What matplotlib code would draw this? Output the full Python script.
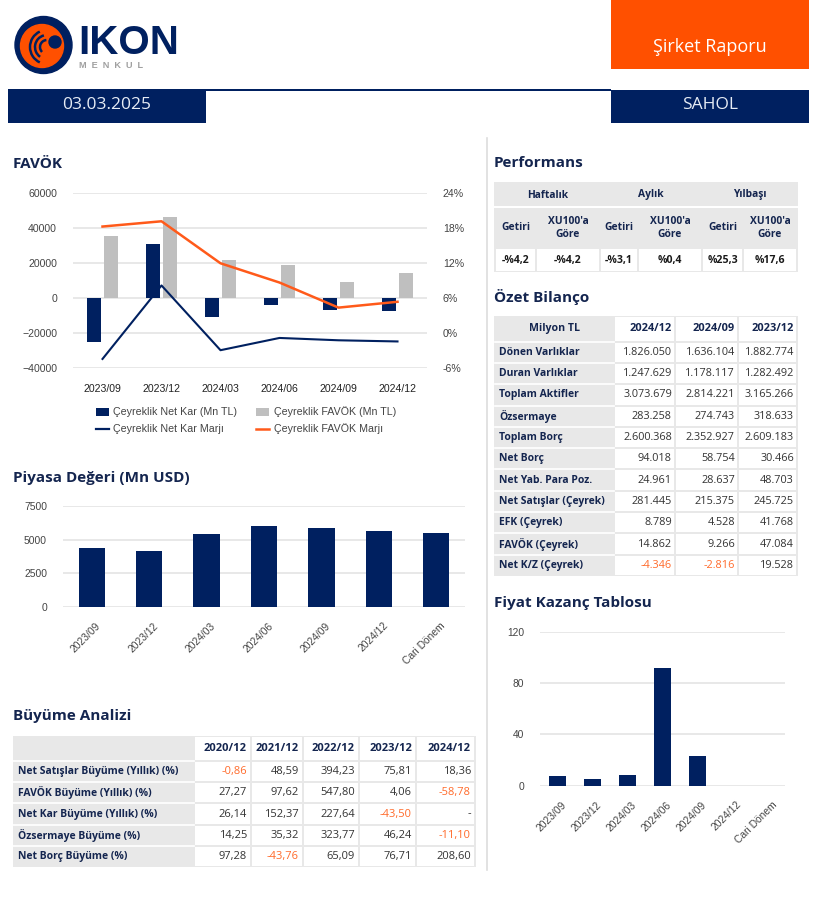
import numpy as np
import matplotlib
matplotlib.use("Agg")
import matplotlib.pyplot as plt
from matplotlib.patches import Rectangle, Circle, Arc
from matplotlib.transforms import ScaledTranslation

# --- data -------------------------------------------------------------
favok_quarters = ['2023/09', '2023/12', '2024/03', '2024/06', '2024/09', '2024/12']
net_kar = [-25500, 30900, -11000, -4400, -6900, -7400]
favok = [35200, 46300, 21500, 18500, 8800, 14100]
net_kar_marji = [-4.5, 8.1, -3.0, -0.9, -1.3, -1.5]
favok_marji = [18.2, 19.1, 11.9, 8.6, 4.3, 5.3]

period_labels = ['2023/09', '2023/12', '2024/03', '2024/06', '2024/09', '2024/12', 'Cari Dönem']
piyasa_degeri = [4360, 4160, 5410, 6030, 5880, 5660, 5480]
fiyat_kazanc = [7.6, 5.0, 8.6, 91.5, 23.5, np.nan, np.nan]

perf_groups = ['Haftalık', 'Aylık', 'Yılbaşı']
perf_sub = ['Getiri', "XU100'a\nGöre"]
perf_values = ['-%4,2', '-%4,2', '-%3,1', '%0,4', '%25,3', '%17,6']

bilanco_cols = ['2024/12', '2024/09', '2023/12']
bilanco_rows = ['Dönen Varlıklar', 'Duran Varlıklar', 'Toplam Aktifler', 'Özsermaye',
                'Toplam Borç', 'Net Borç', 'Net Yab. Para Poz.', 'Net Satışlar (Çeyrek)',
                'EFK (Çeyrek)', 'FAVÖK (Çeyrek)', 'Net K/Z (Çeyrek)']
bilanco_values = [
    ['1.826.050', '1.636.104', '1.882.774'],
    ['1.247.629', '1.178.117', '1.282.492'],
    ['3.073.679', '2.814.221', '3.165.266'],
    ['283.258', '274.743', '318.633'],
    ['2.600.368', '2.352.927', '2.609.183'],
    ['94.018', '58.754', '30.466'],
    ['24.961', '28.637', '48.703'],
    ['281.445', '215.375', '245.725'],
    ['8.789', '4.528', '41.768'],
    ['14.862', '9.266', '47.084'],
    ['-4.346', '-2.816', '19.528'],
]

buyume_cols = ['2020/12', '2021/12', '2022/12', '2023/12', '2024/12']
buyume_rows = ['Net Satışlar Büyüme (Yıllık) (%)', 'FAVÖK Büyüme (Yıllık) (%)',
               'Net Kar Büyüme (Yıllık) (%)', 'Özsermaye Büyüme (%)', 'Net Borç Büyüme (%)']
buyume_values = [
    ['-0,86', '48,59', '394,23', '75,81', '18,36'],
    ['27,27', '97,62', '547,80', '4,06', '-58,78'],
    ['26,14', '152,37', '227,64', '-43,50', '-'],
    ['14,25', '35,32', '323,77', '46,24', '-11,10'],
    ['97,28', '-43,76', '65,09', '76,71', '208,60'],
]

# --- style ------------------------------------------------------------
NAVY = '#002060'
TITLE = '#14254f'
ORANGE = '#ff5000'
NEG = '#ff6a2a'
CELL_GRAY = '#e8e8e8'
GRID = '#e6e6e6'
TXT = '#333333'
TFONT = ['Open Sans', 'DejaVu Sans']
CFONT = ['Liberation Sans', 'DejaVu Sans']

W, H = 817, 897
fig = plt.figure(figsize=(W / 100, H / 100), dpi=100)
fig.patch.set_facecolor('white')

# overlay in pixel coordinates for header, titles and tables
ov = fig.add_axes([0, 0, 1, 1])
ov.set_xlim(0, W)
ov.set_ylim(H, 0)
ov.axis('off')


def px_axes(x0, y0, x1, y1):
    return fig.add_axes([x0 / W, 1 - y1 / H, (x1 - x0) / W, (y1 - y0) / H])


def rect(x0, y0, x1, y1, fc, ec='none', lw=0):
    ov.add_patch(Rectangle((x0, y0), x1 - x0, y1 - y0, facecolor=fc, edgecolor=ec, linewidth=lw))


def title(x, y, s):
    ov.text(x, y, s, fontsize=11, fontweight='bold', color=TITLE, family=TFONT, va='baseline')


# --- header -------------------------------------------------------------
ov.add_patch(Circle((43.5, 45), 28.5, color=NAVY))
ov.add_patch(Circle((42, 46), 21.5, color=ORANGE))
for r, t1, t2 in [(17, 115, 245), (12, 125, 255), (7, 135, 265)]:
    ov.add_patch(Arc((47, 47), 2 * r, 2 * r, theta1=t1, theta2=t2, color=NAVY, lw=1.8))
ov.add_patch(Circle((55, 42), 6, color=NAVY))
ov.text(78, 54, 'IKON', fontsize=29, fontweight='heavy', color=NAVY, family=CFONT, va='baseline')
ov.text(79, 68.5, 'M  E  N  K  U  L', fontsize=6.6, fontweight='bold', color='#a0a0a0',
        family=CFONT, va='baseline')

rect(611, 0, 809, 69, ORANGE)
ov.text(710, 47, 'Şirket Raporu', fontsize=13, color='white', family=TFONT, ha='center', va='center')

rect(8, 89, 611, 91.5, NAVY)
rect(8, 90, 206, 123, NAVY)
rect(611, 90, 809, 123, NAVY)
ov.text(107, 105, '03.03.2025', fontsize=12.5, color='#e6ecf5', family=TFONT, ha='center', va='center')
ov.text(710, 105, 'SAHOL', fontsize=12.5, color='#e6ecf5', family=TFONT, ha='center', va='center')

ov.plot([487, 487], [138, 870], color='#dddddd', lw=1.2)

# --- FAVÖK chart --------------------------------------------------------
title(13, 168, 'FAVÖK')
ax = px_axes(73, 192.7, 427, 367.7)
x = np.arange(len(favok_quarters))
ax.bar(x - 0.14, net_kar, width=0.23, color=NAVY, zorder=2)
ax.bar(x + 0.14, favok, width=0.23, color='#bfbfbf', zorder=2)
ax.set_xlim(-0.5, 5.5)
ax.set_ylim(-40000, 60000)
ax.set_yticks(range(-40000, 60001, 20000))
ax.yaxis.grid(True, color=GRID, lw=1.3)
ax.set_axisbelow(True)
ax.set_xticks(x)
ax.set_xticklabels(favok_quarters)
ax.tick_params(axis='both', length=0, labelsize=7.6, labelcolor='#444444')
ax.tick_params(axis='y', pad=11.5)
ax.tick_params(axis='x', pad=12, labelcolor='#222222')
for lab in ax.get_xticklabels() + ax.get_yticklabels():
    lab.set_family(CFONT)
for s in ax.spines.values():
    s.set_visible(False)

ax2 = ax.twinx()
ax2.plot(x, net_kar_marji, color=NAVY, lw=1.5, zorder=3)
ax2.plot(x, favok_marji, color='#ff5a1a', lw=1.8, zorder=3)
ax2.set_ylim(-6, 24)
ax2.set_yticks(range(-6, 25, 6))
ax2.set_yticklabels([f'{v}%' for v in range(-6, 25, 6)])
ax2.tick_params(axis='y', length=0, labelsize=7.6, labelcolor='#444444', pad=11.5)
for lab in ax2.get_yticklabels():
    lab.set_family(CFONT)
for s in ax2.spines.values():
    s.set_visible(False)

# legend
LEG = 7.7
rect(96, 408, 109, 416, NAVY)
ov.text(113, 412, 'Çeyreklik Net Kar (Mn TL)', fontsize=LEG, color='#444444', family=CFONT, va='center')
rect(256, 408, 269, 416, '#bfbfbf')
ov.text(274, 412, 'Çeyreklik FAVÖK (Mn TL)', fontsize=LEG, color='#444444', family=CFONT, va='center')
ov.plot([96, 109], [429, 429], color=NAVY, lw=1.6)
ov.text(113, 429, 'Çeyreklik Net Kar Marjı', fontsize=LEG, color='#444444', family=CFONT, va='center')
ov.plot([256, 269], [429, 429], color='#ff5a1a', lw=1.8)
ov.text(274, 429, 'Çeyreklik FAVÖK Marjı', fontsize=LEG, color='#444444', family=CFONT, va='center')


def bar_chart(axb, values, ymax, yticks):
    xi = np.arange(len(period_labels))
    axb.bar(xi, values, width=0.46, color=NAVY, zorder=2)
    axb.set_xlim(-0.5, len(period_labels) - 0.5)
    axb.set_ylim(0, ymax)
    axb.set_yticks(yticks)
    axb.yaxis.grid(True, color=GRID, lw=1.3)
    axb.set_axisbelow(True)
    axb.set_xticks(xi)
    axb.set_xticklabels(period_labels, rotation=45, ha='right', rotation_mode='anchor')
    axb.tick_params(axis='both', length=0, labelsize=7.4, labelcolor='#444444')
    axb.tick_params(axis='y', pad=11.5)
    axb.tick_params(axis='x', pad=10)
    off = ScaledTranslation(4 / 100, 0, fig.dpi_scale_trans)
    for lab in axb.get_xticklabels():
        lab.set_family(CFONT)
        lab.set_transform(lab.get_transform() + off)
    for lab in axb.get_yticklabels():
        lab.set_family(CFONT)
    for s in axb.spines.values():
        s.set_visible(False)


# --- Piyasa Değeri --------------------------------------------------------
title(13, 482, 'Piyasa Değeri (Mn USD)')
axp = px_axes(63, 506.3, 465, 606.7)
bar_chart(axp, piyasa_degeri, 7500, [0, 2500, 5000, 7500])

# --- Fiyat Kazanç --------------------------------------------------------
title(494, 607, 'Fiyat Kazanç Tablosu')
axf = px_axes(540, 631.7, 785, 785.7)
bar_chart(axf, fiyat_kazanc, 120, [0, 40, 80, 120])

# --- Performans table ----------------------------------------------------
title(494, 167, 'Performans')
pc = [495, 536, 600, 638, 702, 743, 797]
rect(494, 182, 798, 272, CELL_GRAY)
ov.plot([495, 797], [207.5, 207.5], color='white', lw=1.5)
for g, name in enumerate(perf_groups):
    ov.text((pc[2 * g] + pc[2 * g + 2]) / 2, 195, name, fontsize=7.4, fontweight='bold',
            color=TITLE, family=TFONT, ha='center', va='center')
for c in range(6):
    xc = (pc[c] + pc[c + 1]) / 2
    ov.text(xc, 228, perf_sub[c % 2], fontsize=7.4, fontweight='bold', color=TITLE,
            family=TFONT, ha='center', va='center', linespacing=1.15)
    rect(pc[c] + 1, 249, pc[c + 1] - 1, 271, 'white')
    ov.text(xc, 260, perf_values[c], fontsize=7.6, fontweight='bold', color='#1a1a1a',
            family=TFONT, ha='center', va='center')

# --- Özet Bilanço table ----------------------------------------------------
title(494, 302, 'Özet Bilanço')
bc = [495, 614, 675, 738, 797]
top, hh, rh = 316, 25.7, 21.3
nrow = len(bilanco_rows)
rect(494, top, 798, top + hh + nrow * rh, CELL_GRAY)
ov.text((bc[0] + bc[1]) / 2, top + hh / 2, 'Milyon TL', fontsize=7.6, fontweight='bold',
        color=TITLE, family=TFONT, ha='center', va='center')
for c, name in enumerate(bilanco_cols):
    rect(bc[c + 1] + 1, top + 1, bc[c + 2] - 1, top + hh - 1, 'white')
    ov.text(bc[c + 2] - 3, top + hh / 2, name, fontsize=7.9, fontweight='bold',
            color=TITLE, family=TFONT, ha='right', va='center')
for r, name in enumerate(bilanco_rows):
    y0 = top + hh + r * rh
    ov.plot([bc[0], bc[1]], [y0, y0], color='white', lw=1.2)
    ov.text(bc[0] + 4, y0 + rh / 2, name, fontsize=7.5, fontweight='bold',
            color=TITLE, family=TFONT, va='center')
    for c, val in enumerate(bilanco_values[r]):
        rect(bc[c + 1] + 1, y0 + 1, bc[c + 2] - 1, y0 + rh - 1, 'white')
        col = NEG if val.startswith('-') and len(val) > 1 else TXT
        ov.text(bc[c + 2] - 3, y0 + rh / 2, val, fontsize=7.8, color=col,
                family=TFONT, ha='right', va='center')

# --- Büyüme Analizi table ----------------------------------------------------
title(13, 720, 'Büyüme Analizi')
gc = [13, 194, 251, 303, 359, 416, 475]
top, hh, rh = 736, 25, 21.2
rect(13, top, 476, top + hh + len(buyume_rows) * rh, CELL_GRAY)
for c, name in enumerate(buyume_cols):
    rect(gc[c + 1] + 1, top + 1, gc[c + 2] - 1, top + hh - 1, 'white')
    ov.text(gc[c + 2] - 4, top + hh / 2, name, fontsize=8, fontweight='bold',
            color=TITLE, family=TFONT, ha='right', va='center')
for r, name in enumerate(buyume_rows):
    y0 = top + hh + r * rh
    ov.plot([gc[0], gc[1]], [y0, y0], color='white', lw=1.2)
    ov.text(gc[0] + 5, y0 + rh / 2, name, fontsize=7.5, fontweight='bold',
            color=TITLE, family=TFONT, va='center')
    for c, val in enumerate(buyume_values[r]):
        rect(gc[c + 1] + 1, y0 + 1, gc[c + 2] - 1, y0 + rh - 1, 'white')
        col = NEG if val.startswith('-') and len(val) > 1 else TXT
        ov.text(gc[c + 2] - 4, y0 + rh / 2, val, fontsize=8, color=col,
                family=TFONT, ha='right', va='center')

fig.savefig('out.png', dpi=100)
